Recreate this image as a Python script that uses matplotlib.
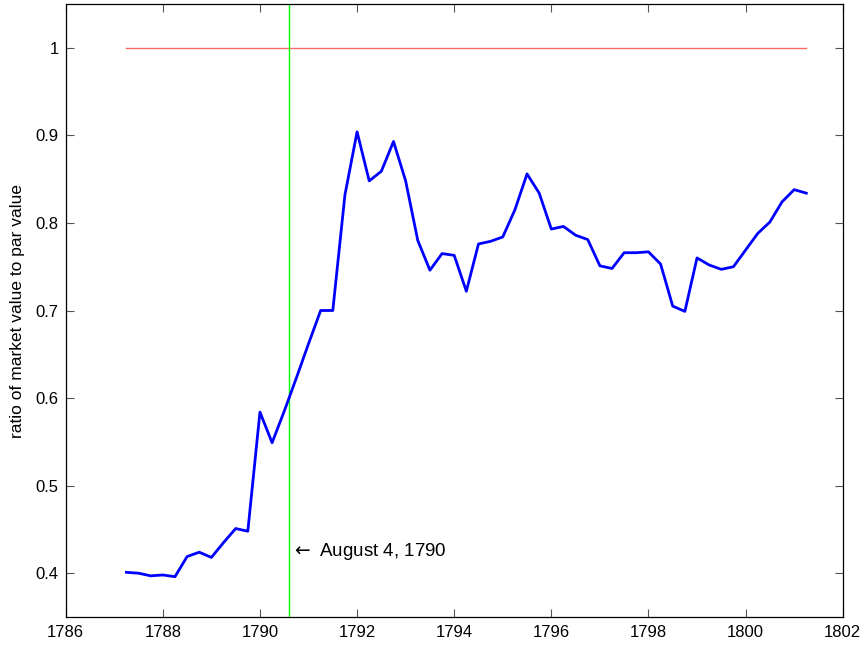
import numpy as np
import matplotlib
matplotlib.use("Agg")
import matplotlib.pyplot as plt

plt.rcParams['font.family'] = ['Liberation Sans', 'DejaVu Sans']
plt.rcParams['mathtext.fontset'] = 'dejavusans'

# quarterly observations, 1787.25 .. 1801.25
start_year = 1787.25
ratio = [0.401, 0.400, 0.397, 0.398, 0.396, 0.419, 0.424, 0.418, 0.435, 0.451,
         0.448, 0.584, 0.549, 0.585, 0.623, 0.662, 0.700, 0.700, 0.832, 0.904,
         0.848, 0.859, 0.893, 0.848, 0.780, 0.746, 0.765, 0.763, 0.722, 0.776,
         0.779, 0.784, 0.815, 0.856, 0.834, 0.793, 0.796, 0.786, 0.781, 0.751,
         0.748, 0.766, 0.766, 0.767, 0.753, 0.705, 0.699, 0.760, 0.752, 0.747,
         0.750, 0.769, 0.788, 0.801, 0.824, 0.838, 0.834]
years = start_year + 0.25 * np.arange(len(ratio))

par_value = 1.0
event_date = 1790 + 215 / 365.0   # August 4, 1790
event_label = r"$\leftarrow$ August 4, 1790"

xticks = [1786, 1788, 1790, 1792, 1794, 1796, 1798, 1800, 1802]
yticks = [0.4, 0.5, 0.6, 0.7, 0.8, 0.9, 1.0]
ytick_labels = ["0.4", "0.5", "0.6", "0.7", "0.8", "0.9", "1"]

fig = plt.figure(figsize=(8.67, 6.48), dpi=100)
ax = fig.add_axes([65.7 / 867, 31 / 648, (842.7 - 65.7) / 867, (617 - 4) / 648])

ax.plot([years[0], years[-1]], [par_value, par_value], color='#ff6666', linewidth=1.0)
ax.axvline(event_date, color='#00ff00', linewidth=1.0)
ax.plot(years, ratio, color='#0000ff', linewidth=2.0)

ax.text(event_date + 0.06, 0.4243, event_label, fontsize=13.5, va='center', ha='left')

ax.set_xlim(1786, 1802)
ax.set_ylim(0.35, 1.05)
ax.set_xticks(xticks)
ax.set_xticklabels([str(t) for t in xticks])
ax.set_yticks(yticks)
ax.set_yticklabels(ytick_labels)
ax.tick_params(direction='in', length=5.5, width=0.8, color='#555555',
               top=True, right=True, labelsize=12, labelcolor='black')
ax.tick_params(axis='x', pad=6)
ax.tick_params(axis='y', pad=5)
for s in ax.spines.values():
    s.set_linewidth(0.9)
    s.set_color('black')

ax.set_ylabel("ratio of market value to par value", fontsize=12.5, labelpad=8)

fig.savefig("out.png", dpi=100)
